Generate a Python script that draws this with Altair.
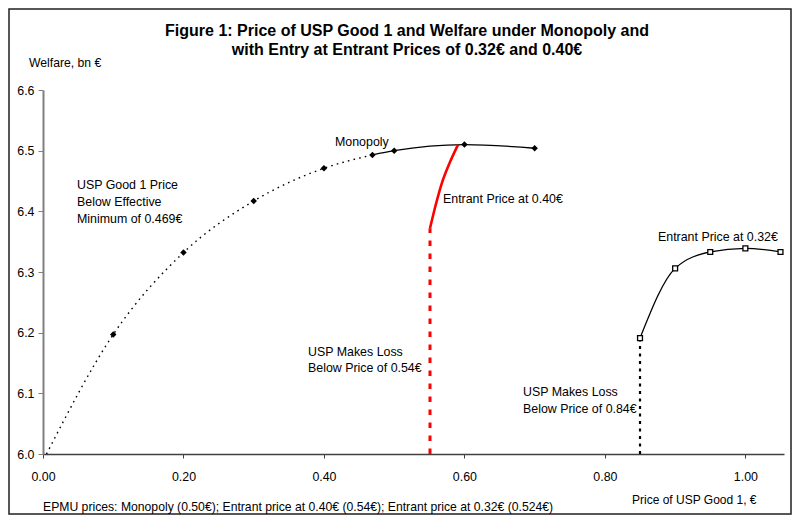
import altair as alt
import pandas as pd

# ---- data ----
mono_dot_x = [0.005, 0.10, 0.20, 0.30, 0.40, 0.469]
mono_dot_y = [6.000, 6.197, 6.332, 6.417, 6.471, 6.493]

mono_solid_x = [0.469, 0.50, 0.60, 0.70]
mono_solid_y = [6.493, 6.500, 6.510, 6.504]

mono_marker_x = [0.10, 0.20, 0.30, 0.40, 0.469, 0.50, 0.60, 0.70]
mono_marker_y = [6.197, 6.332, 6.417, 6.471, 6.493, 6.500, 6.510, 6.504]

e40_x = [0.551, 0.559, 0.568, 0.579, 0.591]
e40_y = [6.372, 6.410, 6.447, 6.480, 6.510]

e40_loss_x = [0.551]
e40_loss_y0 = [6.0]
e40_loss_y1 = [6.372]

e32_x = [0.85, 0.90, 0.95, 1.00, 1.05]
e32_y = [6.191, 6.306, 6.333, 6.339, 6.333]

e32_loss_x = [0.85]
e32_loss_y0 = [6.0]
e32_loss_y1 = [6.191]

x_ticks = [0.0, 0.2, 0.4, 0.6, 0.8, 1.0]
y_ticks = [6.0, 6.1, 6.2, 6.3, 6.4, 6.5, 6.6]

FONT = "Liberation Sans"
W, H = 741, 364

xs = alt.Scale(domain=[0, 1.055], nice=False, zero=False)
ys = alt.Scale(domain=[6.0, 6.6], nice=False, zero=False)

x_axis = alt.Axis(values=x_ticks, format=".2f", title=None, grid=False,
                  domainColor="#404040", domainWidth=1.3, tickColor="#404040",
                  tickSize=4, labelPadding=12, labelFontSize=12.4, labelFont=FONT,
                  labelColor="black", labelFlush=False)
y_axis = alt.Axis(values=y_ticks, format=".1f", title=None, grid=False,
                  domainColor="#808080", domainWidth=2, tickColor="#808080",
                  tickSize=5, labelPadding=4, labelFontSize=12.4, labelFont=FONT,
                  labelColor="black", labelFlush=False)


def X(f):
    return alt.X(f, type="quantitative", scale=xs, axis=x_axis)


def Y(f):
    return alt.Y(f, type="quantitative", scale=ys, axis=y_axis)


mono_dot = alt.Chart(pd.DataFrame({"x": mono_dot_x, "y": mono_dot_y})).mark_line(
    color="black", strokeWidth=1.4, strokeDash=[1.6, 4.2], interpolate="monotone"
).encode(x=X("x"), y=Y("y"))

mono_solid = alt.Chart(pd.DataFrame({"x": mono_solid_x, "y": mono_solid_y})).mark_line(
    color="black", strokeWidth=1.3, interpolate="monotone"
).encode(x=X("x"), y=Y("y"))

mono_pts = alt.Chart(pd.DataFrame({"x": mono_marker_x, "y": mono_marker_y})).mark_point(
    shape="diamond", filled=True, color="black", size=42, opacity=1
).encode(x=X("x"), y=Y("y"))

e40_line = alt.Chart(pd.DataFrame({"x": e40_x, "y": e40_y})).mark_line(
    color="#FF0000", strokeWidth=2.6, interpolate="monotone"
).encode(x=X("x"), y=Y("y"))

e40_rule = alt.Chart(pd.DataFrame({"x": e40_loss_x, "y": e40_loss_y0, "y2": e40_loss_y1})).mark_rule(
    color="#FF0000", strokeWidth=3, strokeDash=[5.5, 7.5]
).encode(x=X("x"), y=Y("y"), y2="y2")

e32_line = alt.Chart(pd.DataFrame({"x": e32_x, "y": e32_y})).mark_line(
    color="black", strokeWidth=1.3, interpolate="monotone"
).encode(x=X("x"), y=Y("y"))

e32_pts = alt.Chart(pd.DataFrame({"x": e32_x, "y": e32_y})).mark_point(
    shape="square", filled=True, fill="white", stroke="black", strokeWidth=1.3,
    size=24, opacity=1
).encode(x=X("x"), y=Y("y"))

e32_rule = alt.Chart(pd.DataFrame({"x": e32_loss_x, "y": e32_loss_y0, "y2": e32_loss_y1})).mark_rule(
    color="black", strokeWidth=2.2, strokeDash=[3, 4.5]
).encode(x=X("x"), y=Y("y"), y2="y2")


def label(text, px, py, size=12.4, weight="normal", align="left"):
    return alt.Chart(pd.DataFrame({"t": [text]})).mark_text(
        font=FONT, fontSize=size, fontWeight=weight, align=align,
        baseline="middle", color="black"
    ).encode(x=alt.value(px), y=alt.value(py), text="t:N")


texts = [
    label("Figure 1: Price of USP Good 1 and Welfare under Monopoly and", 364, -59, 16, "bold", "center"),
    label("with Entry at Entrant Prices of 0.32€ and 0.40€", 364, -40, 16, "bold", "center"),
    label("Welfare, bn €", -14, -27, 12.2),
    label("Monopoly", 292, 52),
    label("USP Good 1 Price", 34, 95),
    label("Below Effective", 34, 112),
    label("Minimum of 0.469€", 34, 129),
    label("Entrant Price at 0.40€", 400, 109),
    label("Entrant Price at 0.32€", 615, 147),
    label("USP Makes Loss", 265, 262),
    label("Below Price of 0.54€", 265, 278),
    label("USP Makes Loss", 480, 302),
    label("Below Price of 0.84€", 480, 319),
    label("Price of USP Good 1, €", 589, 410, 12),
    label("EPMU prices: Monopoly (0.50€); Entrant price at 0.40€ (0.54€); Entrant price at 0.32€ (0.524€)", 0, 417, 12.2),
]

frame = alt.Chart(pd.DataFrame({"a": [0]})).mark_rect(
    fill=None, stroke="#202020", strokeWidth=1.5
).encode(x=alt.value(-34), x2=alt.value(748), y=alt.value(-81), y2=alt.value(424))

chart = alt.layer(
    frame, mono_dot, mono_solid, e40_rule, e40_line, e32_rule, e32_line,
    mono_pts, e32_pts, *texts
).properties(
    width=W, height=H,
    autosize=alt.AutoSizeParams(type="none"),
    padding={"left": 35, "top": 82, "right": 8, "bottom": 61},
    background="white",
).configure_view(stroke=None)

chart.save("out.html", embed_options={"renderer": "svg", "actions": False})
